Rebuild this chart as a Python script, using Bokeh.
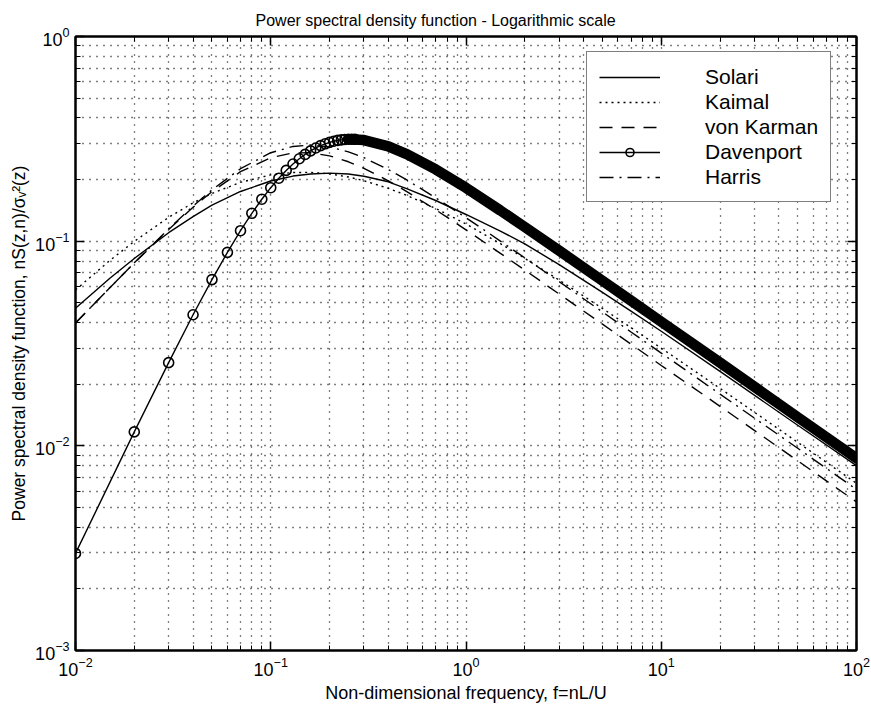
from bokeh.plotting import figure
from bokeh.models import (FixedTicker, LogAxis, LogTickFormatter, Legend, LegendItem,
                          Range1d, CustomJSTickFormatter)
from bokeh.embed import file_html
from bokeh.resources import INLINE

# ---------------- data ----------------
freq = [0.01, 0.015, 0.02, 0.03, 0.04, 0.05, 0.07, 0.1, 0.13, 0.16, 0.2, 0.25, 0.3,
        0.4, 0.5, 0.7, 1, 1.5, 2, 3, 5, 7, 10, 20, 50, 100]

solari = [0.047, 0.0659, 0.0823, 0.110, 0.1317, 0.1499, 0.1749, 0.1967, 0.2080, 0.2130,
          0.2150, 0.2129, 0.2075, 0.1950, 0.1800, 0.1580, 0.1350, 0.1120, 0.0970, 0.0768,
          0.0562, 0.0455, 0.0363, 0.0231, 0.0126, 0.0080]

kaimal = [0.0578, 0.0805, 0.0998, 0.1307, 0.1538, 0.1711, 0.1939, 0.2107, 0.2165, 0.2168,
          0.2132, 0.2058, 0.1974, 0.1812, 0.1670, 0.1445, 0.1213, 0.0973, 0.0824, 0.0646,
          0.0469, 0.0378, 0.0300, 0.0191, 0.0104, 0.00656]

von_karman = [0.0398, 0.0592, 0.0782, 0.1140, 0.1463, 0.1746, 0.2185, 0.2560, 0.2699, 0.2704,
              0.2612, 0.2443, 0.2271, 0.1973, 0.1742, 0.1423, 0.1136, 0.0872, 0.0722, 0.0552,
              0.0393, 0.0314, 0.0247, 0.0156, 0.00845, 0.00532]

harris = [0.0398, 0.0593, 0.0784, 0.1149, 0.1483, 0.1781, 0.2259, 0.2705, 0.2903, 0.2949,
          0.2887, 0.2731, 0.2557, 0.2239, 0.1986, 0.1628, 0.1302, 0.1001, 0.0829, 0.0634,
          0.0451, 0.0360, 0.0284, 0.0179, 0.00973, 0.00612]

# Davenport: individual circles at low frequency ...
davenport_marker_f = [0.01, 0.02, 0.03, 0.04, 0.05, 0.06, 0.07, 0.08, 0.09, 0.10,
                      0.11, 0.12, 0.13, 0.14, 0.15, 0.16, 0.17, 0.18, 0.19, 0.20,
                      0.21, 0.22, 0.23, 0.24, 0.25, 0.26, 0.27]
davenport_marker_y = [0.00298, 0.0117, 0.0255, 0.0437, 0.0649, 0.0882, 0.1125, 0.1368, 0.1603, 0.1825,
                      0.2031, 0.2217, 0.2383, 0.2528, 0.2654, 0.2762, 0.2853, 0.2929, 0.2990, 0.3039,
                      0.3078, 0.3107, 0.3127, 0.3141, 0.3148, 0.3150, 0.3149]
# ... and the dense (merged) circles beyond, forming a thick band
davenport_f = [0.25, 0.3, 0.4, 0.5, 0.7, 1, 1.5, 2, 3, 5, 7, 10, 20, 50, 100]
davenport_y = [0.3148, 0.3117, 0.2904, 0.2657, 0.2242, 0.1822, 0.1412, 0.1173, 0.0899,
               0.0641, 0.0512, 0.0404, 0.0255, 0.0138, 0.0087]

x_major = [0.01, 0.1, 1, 10, 100]
y_major = [0.001, 0.01, 0.1, 1]

TITLE = "Power spectral density function - Logarithmic scale"
FONT = "Liberation Sans"

# ---------------- figure ----------------
p = figure(x_axis_type="log", y_axis_type="log",
           x_range=Range1d(0.01, 100), y_range=Range1d(0.001, 1),
           frame_width=781, frame_height=614,
           min_border_left=75, min_border_right=15, min_border_top=36, min_border_bottom=57,
           output_backend="svg", toolbar_location=None,
           background_fill_color="white", border_fill_color="white")

p.title.text = TITLE
p.title.align = "left"
p.title.offset = 180
p.title.standoff = 14
p.title.vertical_align = "middle"
p.title.text_font = FONT
p.title.text_font_size = "16px"
p.title.text_font_style = "normal"
p.title.text_color = "black"

x_minor = [m * d for d in [0.01, 0.1, 1, 10] for m in range(2, 10)]
y_minor = [m * d for d in [0.001, 0.01, 0.1] for m in range(2, 10)]
xt = FixedTicker(ticks=x_major, minor_ticks=x_minor)
yt = FixedTicker(ticks=y_major, minor_ticks=y_minor)


def style_axis(ax):
    ax.axis_line_width = 2
    ax.axis_line_color = "black"
    ax.major_tick_in = 9
    ax.major_tick_out = 0
    ax.minor_tick_in = 5
    ax.minor_tick_out = 0
    ax.major_tick_line_color = "black"
    ax.minor_tick_line_color = "black"
    ax.major_tick_line_width = 1.5
    ax.minor_tick_line_width = 1
    ax.major_label_text_font = FONT
    ax.major_label_text_font_size = "18px"
    ax.major_label_text_color = "black"
    ax.axis_label_text_font = FONT
    ax.axis_label_text_font_size = "18px"
    ax.axis_label_text_font_style = "normal"
    ax.axis_label_text_color = "black"


p.xaxis.ticker = xt
p.yaxis.ticker = yt
p.xaxis.formatter = LogTickFormatter()
p.yaxis.formatter = LogTickFormatter()
style_axis(p.xaxis[0])
style_axis(p.yaxis[0])
p.xaxis.axis_label = "Non-dimensional frequency, f=nL/U"
p.yaxis.axis_label = "Power spectral density function, nS(z,n)/σᵥ²(z)"
p.yaxis.axis_label_text_font_size = "17.5px"
p.xaxis.major_label_standoff = 6
p.yaxis.major_label_standoff = 6
p.xaxis.axis_label_standoff = 4
p.yaxis.axis_label_standoff = 3

blank = CustomJSTickFormatter(code="return ''")
top_ax = LogAxis(ticker=xt, formatter=blank, major_label_standoff=0)
right_ax = LogAxis(ticker=yt, formatter=blank, major_label_standoff=0)
style_axis(top_ax)
style_axis(right_ax)
p.add_layout(top_ax, "above")
p.add_layout(right_ax, "right")

p.outline_line_color = "black"
p.outline_line_width = 2

p.xgrid[0].ticker = xt
p.ygrid[0].ticker = yt
for g in (p.xgrid[0], p.ygrid[0]):
    g.grid_line_color = "black"
    g.grid_line_dash = "1 6"
    g.grid_line_width = 1.3
    g.minor_grid_line_color = "black"
    g.minor_grid_line_dash = "1 6"
    g.minor_grid_line_width = 1.3

# ---------------- curves ----------------
r_s = p.line(freq, solari, line_color="black", line_width=1.4)
r_k = p.line(freq, kaimal, line_color="black", line_width=1.4, line_dash="2 4")
r_v = p.line(freq, von_karman, line_color="black", line_width=1.4, line_dash="13 9")
r_db = p.line(davenport_f, davenport_y, line_color="black", line_width=10.5, line_cap="round")
r_dl = p.line(davenport_marker_f, davenport_marker_y, line_color="black", line_width=1.4)
r_dp = p.scatter(davenport_marker_f, davenport_marker_y, marker="circle", size=10,
                 fill_alpha=0, line_color="black", line_width=1.6)
r_h = p.line(freq, harris, line_color="black", line_width=1.4, line_dash="14 6 2 6")

legend = Legend(items=[
    LegendItem(label="Solari", renderers=[r_s]),
    LegendItem(label="Kaimal", renderers=[r_k]),
    LegendItem(label="von Karman", renderers=[r_v]),
    LegendItem(label="Davenport", renderers=[r_dl, r_dp]),
    LegendItem(label="Harris", renderers=[r_h]),
], location=(511, 448))
legend.label_text_font = FONT
legend.label_text_font_size = "21px"
legend.label_text_color = "black"
legend.glyph_width = 61
legend.glyph_height = 20
legend.label_height = 25
legend.label_standoff = 45
legend.spacing = 0
legend.padding = 12
legend.margin = 0
legend.border_line_color = "black"
legend.border_line_width = 1.5
legend.background_fill_color = "white"
legend.background_fill_alpha = 1
p.add_layout(legend)

open("out.html", "w").write(file_html(p, INLINE))
